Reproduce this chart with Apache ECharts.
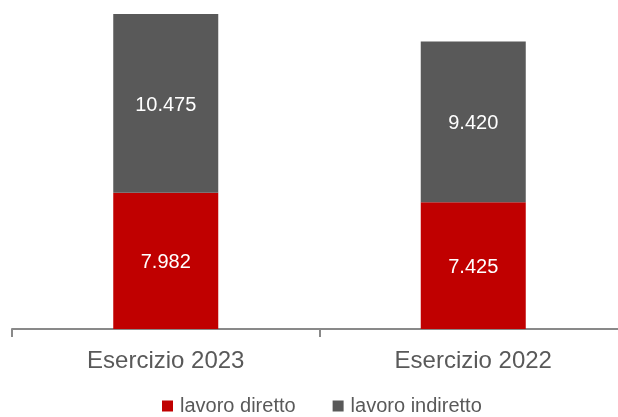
<!DOCTYPE html>
<html><head><meta charset="utf-8">
<script src="https://cdn.jsdelivr.net/npm/echarts@6/dist/echarts.min.js"></script>
<style>html,body{margin:0;padding:0;background:#fff;overflow:hidden;width:618px;height:417px}#c{width:630px;height:417px}</style>
</head><body><div id="c"></div>
<script>
var categories = ['Esercizio 2023', 'Esercizio 2022'];
var lavoroDiretto = [7982, 7425];
var lavoroIndiretto = [10475, 9420];
var seriesNames = ['lavoro diretto', 'lavoro indiretto'];

function fmtNum(n){ var s = String(n); return s.replace(/\B(?=(\d{3})+(?!\d))/g, '.'); }

var chart = echarts.init(document.getElementById('c'), null, {renderer:'canvas'});
var FONT = '"Liberation Sans", Arial, sans-serif';
chart.setOption({
  animation: false,
  grid: {left: 12, right: 3, top: 14, bottom: 88, containLabel: false},
  legend: {
    data: seriesNames, left: 157, top: 391, itemWidth: 11, itemHeight: 11, itemGap: 37,
    icon: 'rect',
    textStyle: {fontFamily: FONT, fontSize: 20, color: '#595959', padding: [0,0,0,2]}
  },
  xAxis: {
    type: 'category', data: categories,
    axisLine: {lineStyle: {color: '#898989', width: 2}},
    axisTick: {show: true, length: 8, lineStyle: {color: '#898989', width: 2}},
    axisLabel: {fontFamily: FONT, fontSize: 24, color: '#595959', margin: 20}
  },
  yAxis: {
    type: 'value', min: 0, max: function(v){ return v.max; },
    show: false, splitLine: {show: false}
  },
  series: [
    {name: seriesNames[0], type: 'bar', stack: 'a', data: lavoroDiretto, barWidth: 105,
     itemStyle: {color: '#C00000'},
     label: {show: true, position: 'inside', color: '#fff', fontFamily: FONT, fontSize: 20, offset: [0, 2],
       formatter: function(p){ return fmtNum(p.value); }}},
    {name: seriesNames[1], type: 'bar', stack: 'a', data: lavoroIndiretto, barWidth: 105,
     itemStyle: {color: '#595959'},
     label: {show: true, position: 'inside', color: '#fff', fontFamily: FONT, fontSize: 20, offset: [0, 2],
       formatter: function(p){ return fmtNum(p.value); }}}
  ]
});
</script></body></html>
